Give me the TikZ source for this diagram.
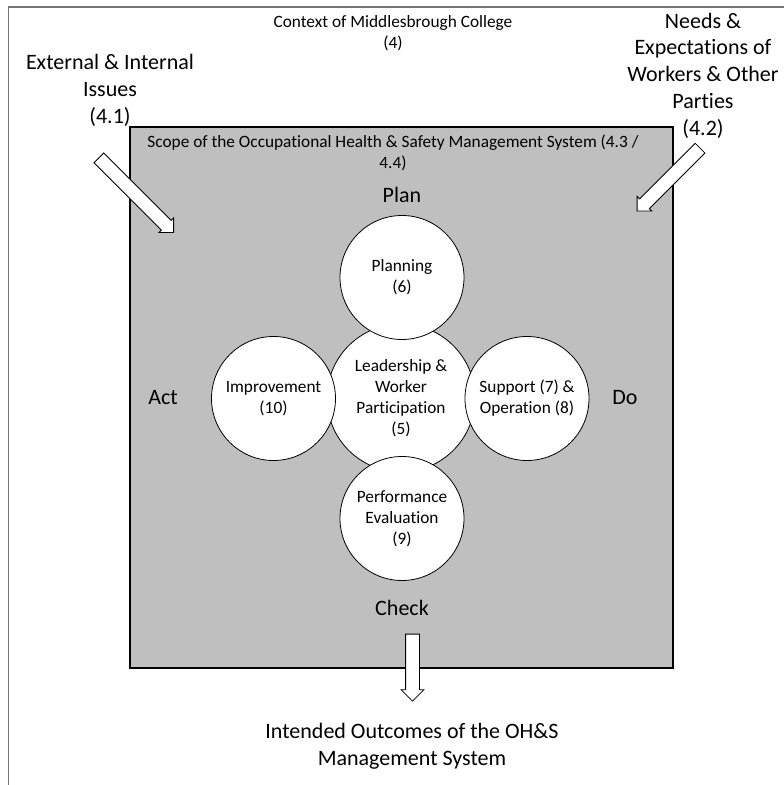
\documentclass[tikz,border=0pt]{standalone}
\usepackage{fontspec}
\setmainfont{Carlito}[Ligatures=NoCommon]
\usetikzlibrary{shapes.arrows}

\begin{document}
\begin{tikzpicture}[x=1pt,y=1pt,
  small/.style={font=\fontsize{17.3}{21.1}\selectfont, align=center, inner sep=0pt},
  large/.style={font=\fontsize{22}{26.8}\selectfont, align=center, inner sep=0pt},
  petal/.style={circle, draw=black, fill=white, line width=0.8pt, inner sep=0pt, minimum size=124pt, small},
  blockarrow/.style={single arrow, draw=black, fill=white, line width=0.8pt, inner xsep=0pt, inner ysep=6.5pt,
    single arrow tip angle=90, single arrow head extend=3.5pt, anchor=tip}]
\definecolor{fillColor}{RGB}{255,255,255}
\path[use as bounding box,fill=fillColor] (0,0) rectangle (784,785);
\definecolor{frameColor}{RGB}{118,118,118}

\path[draw=frameColor,line width=1.2pt] (8.5,0) -- (8.5,778) -- (784,778);
\definecolor{scopeColor}{RGB}{191,191,191}

\path[draw=black,fill=scopeColor,line width=1.3pt] (130,117) rectangle (673,658);

\node[small] (context) at (393,752) {Context of Middlesbrough College\\(4)};

\node[large] (issues) at (110,694.5) {External \& Internal\\Issues\\(4.1)};

\node[large] (needs) at (703,709.5) {Needs \&\\Expectations of\\Workers \& Other\\Parties\\(4.2)};

\node[small] (scope) at (393,632.5) {Scope of the Occupational Health \& Safety Management System (4.3 /\\4.4)};

\node[large] (plan) at (402,590) {Plan};
\node[large] (do) at (625,387) {Do};
\node[large] (check) at (402,177) {Check};
\node[large] (act) at (163,387) {Act};

\node[petal, minimum size=148pt] (lead) at (401,387) {Leadership \&\\Worker\\Participation\\(5)};
\node[petal] (planning) at (402,507.5) {Planning\\(6)};
\node[petal] (improve) at (273.5,386.5) {Improvement\\(10)};
\node[petal] (support) at (527,386.5) {Support (7) \&\\Operation (8)};
\node[petal] (perf) at (402,266.5) {Performance\\Evaluation\\(9)};

\node[blockarrow, minimum height=105.7pt, rotate=-45] (issuesarrow) at (174,552) {};
\node[blockarrow, minimum height=89pt, rotate=-135] (needsarrow) at (636.7,573.5) {};
\node[blockarrow, minimum height=67pt, single arrow head extend=4.5pt, rotate=-90] (outarrow) at (412.5,83.3) {};

\node[large] (outcomes) at (412,38.5) {Intended Outcomes of the OH\&S\\Management System};
\end{tikzpicture}
\end{document}
